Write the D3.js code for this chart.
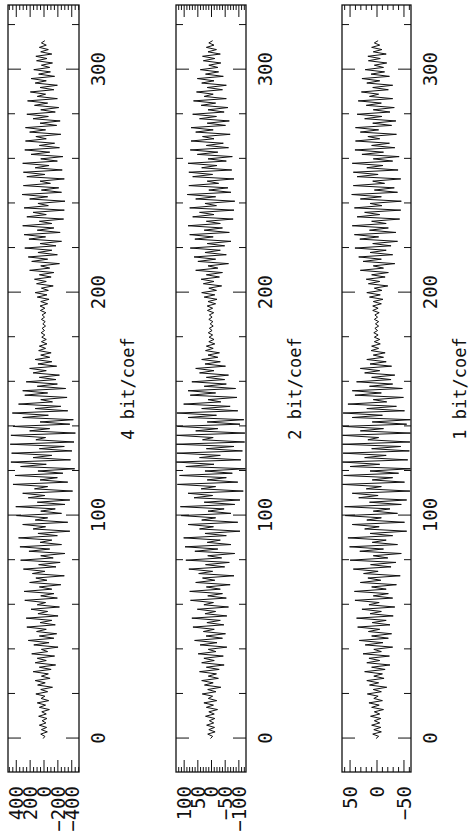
<!DOCTYPE html>
<html>
<head>
<meta charset="utf-8">
<script src="https://cdn.jsdelivr.net/npm/d3@7"></script>
<style>
  html, body { margin: 0; padding: 0; background: #fff; }
  svg { display: block; }
  text { font-family: "DejaVu Sans Mono", monospace; fill: #111; }
</style>
</head>
<body>
<svg id="chart" width="471" height="840"></svg>
<script>
// Coefficient sequences, one per bit rate
const coef4bit = [
  5, -20, 40, -55, 30, -45, 60, -35, 20, -50,
  70, -40, 25, -85, 60, -30, 90, -75, 35, -20,
  110, -60, 40, -130, 85, -25, 120, -95, 30, -70,
  150, -110, 60, -175, 120, -40, 90, -160, 170, -60,
  30, -210, 140, -80, 220, -150, 60, -190, 100, -40,
  240, -170, 50, -120, 250, -210, 80, -60, 180, -230,
  90, -30, 270, -200, 40, -150, 280, -120, 60, -250,
  200, -50, 110, -300, 160, -20, 290, -180, 70, -240,
  330, -140, 40, -310, 210, -90, 340, -260, 50, -120,
  360, -200, 80, -380, 150, -30, 300, -350, 120, -60,
  390, -260, 40, -170, 400, -310, 90, -380, 220, -20,
  300, -420, 130, -60, 440, -350, 50, -200, 410, -280,
  80, -450, 330, -40, 470, -390, 150, -120, 460, -410,
  60, -300, 480, -440, 110, -30, 470, -460, 200, -90,
  440, -380, 50, -430, 300, -70, 450, -350, 120, -250,
  360, -130, 40, -340, 270, -60, 300, -320, 90, -200,
  250, -180, 60, -230, 150, -40, 200, -190, 80, -120,
  120, -90, 40, -110, 70, -30, 60, -50, 30, -40,
  25, -20, 35, -15, 20, -30, 10, -25, 30, -15,
  20, -35, 45, -20, 50, -60, 40, -80, 90, -50,
  120, -70, 30, -140, 100, -40, 130, -110, 60, -150,
  200, -90, 40, -230, 170, -60, 220, -200, 80, -120,
  270, -180, 50, -260, 210, -30, 280, -240, 90, -150,
  300, -120, 60, -290, 240, -40, 150, -300, 280, -70,
  80, -310, 200, -60, 310, -260, 30, -220, 290, -100,
  50, -300, 240, -20, 290, -270, 120, -80, 300, -200,
  40, -280, 180, -90, 270, -230, 60, -160, 260, -40,
  110, -250, 200, -30, 260, -190, 50, -240, 150, -70,
  240, -170, 40, -220, 130, -60, 230, -200, 90, -30,
  190, -150, 50, -200, 120, -40, 180, -160, 70, -100,
  140, -90, 30, -130, 100, -50, 110, -120, 40, -70,
  60, -40, 30, -20
];

const coef2bit = [
  2, -6, 12, -15, 8, -13, 16, -10, 6, -14,
  20, -12, 8, -24, 17, -9, 26, -21, 10, -6,
  32, -18, 12, -36, 24, -8, 34, -27, 10, -20,
  42, -30, 17, -48, 34, -12, 26, -45, 47, -18,
  10, -58, 40, -22, 60, -42, 18, -53, 28, -12,
  66, -47, 15, -34, 70, -58, 22, -17, 50, -64,
  26, -9, 75, -56, 12, -42, 78, -34, 17, -70,
  56, -14, 31, -84, 45, -6, 81, -50, 20, -67,
  92, -39, 12, -87, 59, -25, 95, -73, 14, -34,
  100, -56, 22, -106, 42, -9, 84, -98, 34, -17,
  109, -73, 11, -48, 112, -87, 25, -106, 62, -6,
  84, -118, 36, -17, 123, -98, 14, -56, 115, -78,
  22, -126, 92, -11, 127, -109, 42, -34, 125, -115,
  17, -84, 127, -123, 31, -8, 126, -124, 56, -25,
  123, -106, 14, -120, 84, -20, 125, -98, 34, -70,
  100, -36, 11, -95, 76, -17, 84, -90, 25, -56,
  70, -50, 17, -64, 42, -11, 56, -53, 22, -34,
  34, -25, 11, -31, 20, -8, 17, -14, 8, -11,
  7, -6, 10, -4, 6, -8, 3, -7, 8, -4,
  6, -10, 13, -6, 14, -17, 11, -22, 25, -14,
  34, -20, 8, -39, 28, -11, 36, -31, 17, -42,
  56, -25, 11, -64, 48, -17, 62, -56, 22, -34,
  76, -50, 14, -73, 59, -8, 78, -67, 25, -42,
  84, -34, 17, -81, 67, -11, 42, -84, 78, -20,
  22, -87, 56, -17, 87, -73, 8, -62, 81, -28,
  14, -84, 67, -6, 81, -76, 34, -22, 84, -56,
  11, -78, 50, -25, 76, -64, 17, -45, 73, -11,
  31, -70, 56, -8, 73, -53, 14, -67, 42, -20,
  67, -48, 11, -62, 36, -17, 64, -56, 25, -8,
  53, -42, 14, -56, 34, -11, 50, -45, 20, -28,
  39, -25, 8, -36, 28, -14, 31, -34, 11, -20,
  17, -11, 8, -6
];

const coef1bit = [
  1, -4, 7, -9, 5, -8, 9, -6, 4, -8,
  11, -6, 4, -13, 9, -5, 14, -11, 5, -3,
  17, -9, 6, -19, 13, -4, 18, -14, 5, -11,
  22, -16, 9, -25, 18, -6, 14, -24, 25, -9,
  5, -30, 21, -12, 32, -22, 9, -28, 15, -6,
  35, -25, 8, -18, 37, -31, 12, -9, 27, -34,
  14, -5, 40, -30, 6, -22, 41, -18, 9, -37,
  30, -8, 16, -44, 24, -3, 43, -27, 11, -36,
  49, -21, 6, -46, 31, -13, 50, -39, 8, -18,
  53, -30, 12, -56, 22, -5, 45, -52, 18, -9,
  58, -39, 6, -25, 59, -46, 13, -56, 33, -3,
  45, -62, 19, -9, 63, -52, 8, -30, 61, -41,
  12, -63, 49, -6, 63, -58, 22, -18, 62, -61,
  9, -45, 63, -62, 16, -4, 63, -63, 30, -13,
  62, -56, 8, -63, 45, -11, 62, -52, 18, -37,
  53, -19, 6, -50, 40, -9, 45, -48, 13, -30,
  37, -27, 9, -34, 22, -6, 30, -28, 12, -18,
  18, -13, 6, -16, 10, -4, 9, -7, 4, -6,
  4, -3, 5, -2, 3, -4, 2, -4, 4, -2,
  3, -5, 7, -3, 7, -9, 6, -12, 13, -7,
  18, -10, 4, -21, 15, -6, 19, -16, 9, -22,
  30, -13, 6, -34, 25, -9, 33, -30, 12, -18,
  40, -27, 7, -39, 31, -4, 41, -36, 13, -22,
  45, -18, 9, -43, 36, -6, 22, -45, 41, -10,
  12, -46, 30, -9, 46, -39, 4, -33, 43, -15,
  7, -45, 36, -3, 43, -40, 18, -12, 45, -30,
  6, -42, 27, -13, 40, -34, 9, -24, 39, -6,
  16, -37, 30, -4, 39, -28, 7, -36, 22, -10,
  36, -25, 6, -33, 19, -9, 34, -30, 13, -4,
  28, -22, 7, -30, 18, -6, 27, -24, 10, -15,
  21, -13, 4, -19, 15, -7, 16, -18, 6, -10,
  9, -6, 4, -3
];

// Axis labels
const titles = ["4 bit/coef", "2 bit/coef", "1 bit/coef"];
const indexTicks = [0, 100, 200, 300];
const valueTicks4 = [400, 200, 0, -200, -400];
const valueTicks2 = [100, 50, 0, -50, -100];
const valueTicks1 = [50, 0, -50];

// Plot is laid out landscape (index along X) and turned a quarter turn
const W = 840, H = 471;
const svg = d3.select("#chart");
const root = svg.append("g").attr("transform", `translate(0,${W}) rotate(-90)`);

const x = d3.scaleLinear().domain([-15, 329]).range([68, 835]);

const panels = [
  { title: titles[0], values: coef4bit, limit: 512, labels: valueTicks4, minor: d3.range(-500, 501, 50), top: 8, bottom: 79 },
  { title: titles[1], values: coef2bit, limit: 128, labels: valueTicks2, minor: d3.range(-120, 121, 10), top: 176, bottom: 246 },
  { title: titles[2], values: coef1bit, limit: 64, labels: valueTicks1, minor: d3.range(-60, 61, 10), top: 342, bottom: 411 }
];

function strip(sel) {
  sel.select(".domain").remove();
  sel.selectAll(".tick line").attr("stroke", "#111").attr("stroke-width", 1);
  return sel;
}

panels.forEach((p, i) => {
  const y = d3.scaleLinear().domain([-p.limit, p.limit]).range([p.bottom, p.top]);
  const g = root.append("g");
  const x0 = x.range()[0], x1 = x.range()[1];

  g.append("clipPath").attr("id", "clip" + i)
    .append("rect").attr("x", x0).attr("y", p.top).attr("width", x1 - x0).attr("height", p.bottom - p.top);

  // index ticks along both long edges
  const minorIdx = d3.range(0, 330, 20).filter(v => v % 100 !== 0);
  strip(g.append("g").attr("transform", `translate(0,${p.bottom})`)
    .call(d3.axisBottom(x).tickValues(minorIdx).tickSize(-7).tickFormat("")));
  strip(g.append("g").attr("transform", `translate(0,${p.top})`)
    .call(d3.axisTop(x).tickValues(minorIdx).tickSize(-7).tickFormat("")));
  strip(g.append("g").attr("transform", `translate(0,${p.top})`)
    .call(d3.axisTop(x).tickValues(indexTicks).tickSize(-13).tickFormat("")));
  const bx = strip(g.append("g").attr("transform", `translate(0,${p.bottom})`)
    .call(d3.axisBottom(x).tickValues(indexTicks).tickSize(-13)));
  bx.selectAll("text")
    .attr("y", 19).attr("dy", "0.36em")
    .style("font-size", "19px").attr("fill", "#111");

  // value ruler along both short edges
  const minorVal = p.minor.filter(v => !p.labels.includes(v));
  strip(g.append("g").attr("transform", `translate(${x0},0)`)
    .call(d3.axisLeft(y).tickValues(minorVal).tickSize(-5).tickFormat("")));
  strip(g.append("g").attr("transform", `translate(${x1},0)`)
    .call(d3.axisRight(y).tickValues(minorVal).tickSize(-5).tickFormat("")));
  strip(g.append("g").attr("transform", `translate(${x1},0)`)
    .call(d3.axisRight(y).tickValues(p.labels).tickSize(-12).tickFormat("")));
  const ly = strip(g.append("g").attr("transform", `translate(${x0},0)`)
    .call(d3.axisLeft(y).tickValues(p.labels).tickSize(-12)));
  ly.selectAll("text")
    .attr("x", -14).attr("dy", "0.36em")
    .attr("text-anchor", "end")
    .style("font-size", "19px").attr("fill", "#111");

  // frame
  g.append("rect")
    .attr("x", x0).attr("y", p.top)
    .attr("width", x1 - x0).attr("height", p.bottom - p.top)
    .attr("fill", "none").attr("stroke", "#111").attr("stroke-width", 1.3);

  // signal trace
  const line = d3.line().x((d, k) => x(k)).y(d => y(d));
  g.append("path")
    .datum(p.values)
    .attr("clip-path", `url(#clip${i})`)
    .attr("d", line)
    .attr("fill", "none")
    .attr("stroke", "#111")
    .attr("stroke-width", 1)
    .attr("stroke-linejoin", "miter");

  // panel caption
  g.append("text")
    .attr("x", x((x.domain()[0] + x.domain()[1]) / 2))
    .attr("y", p.bottom + 49)
    .attr("dy", "0.36em")
    .attr("text-anchor", "middle")
    .style("font-size", "17px")
    .text(p.title);
});
</script>
</body>
</html>
